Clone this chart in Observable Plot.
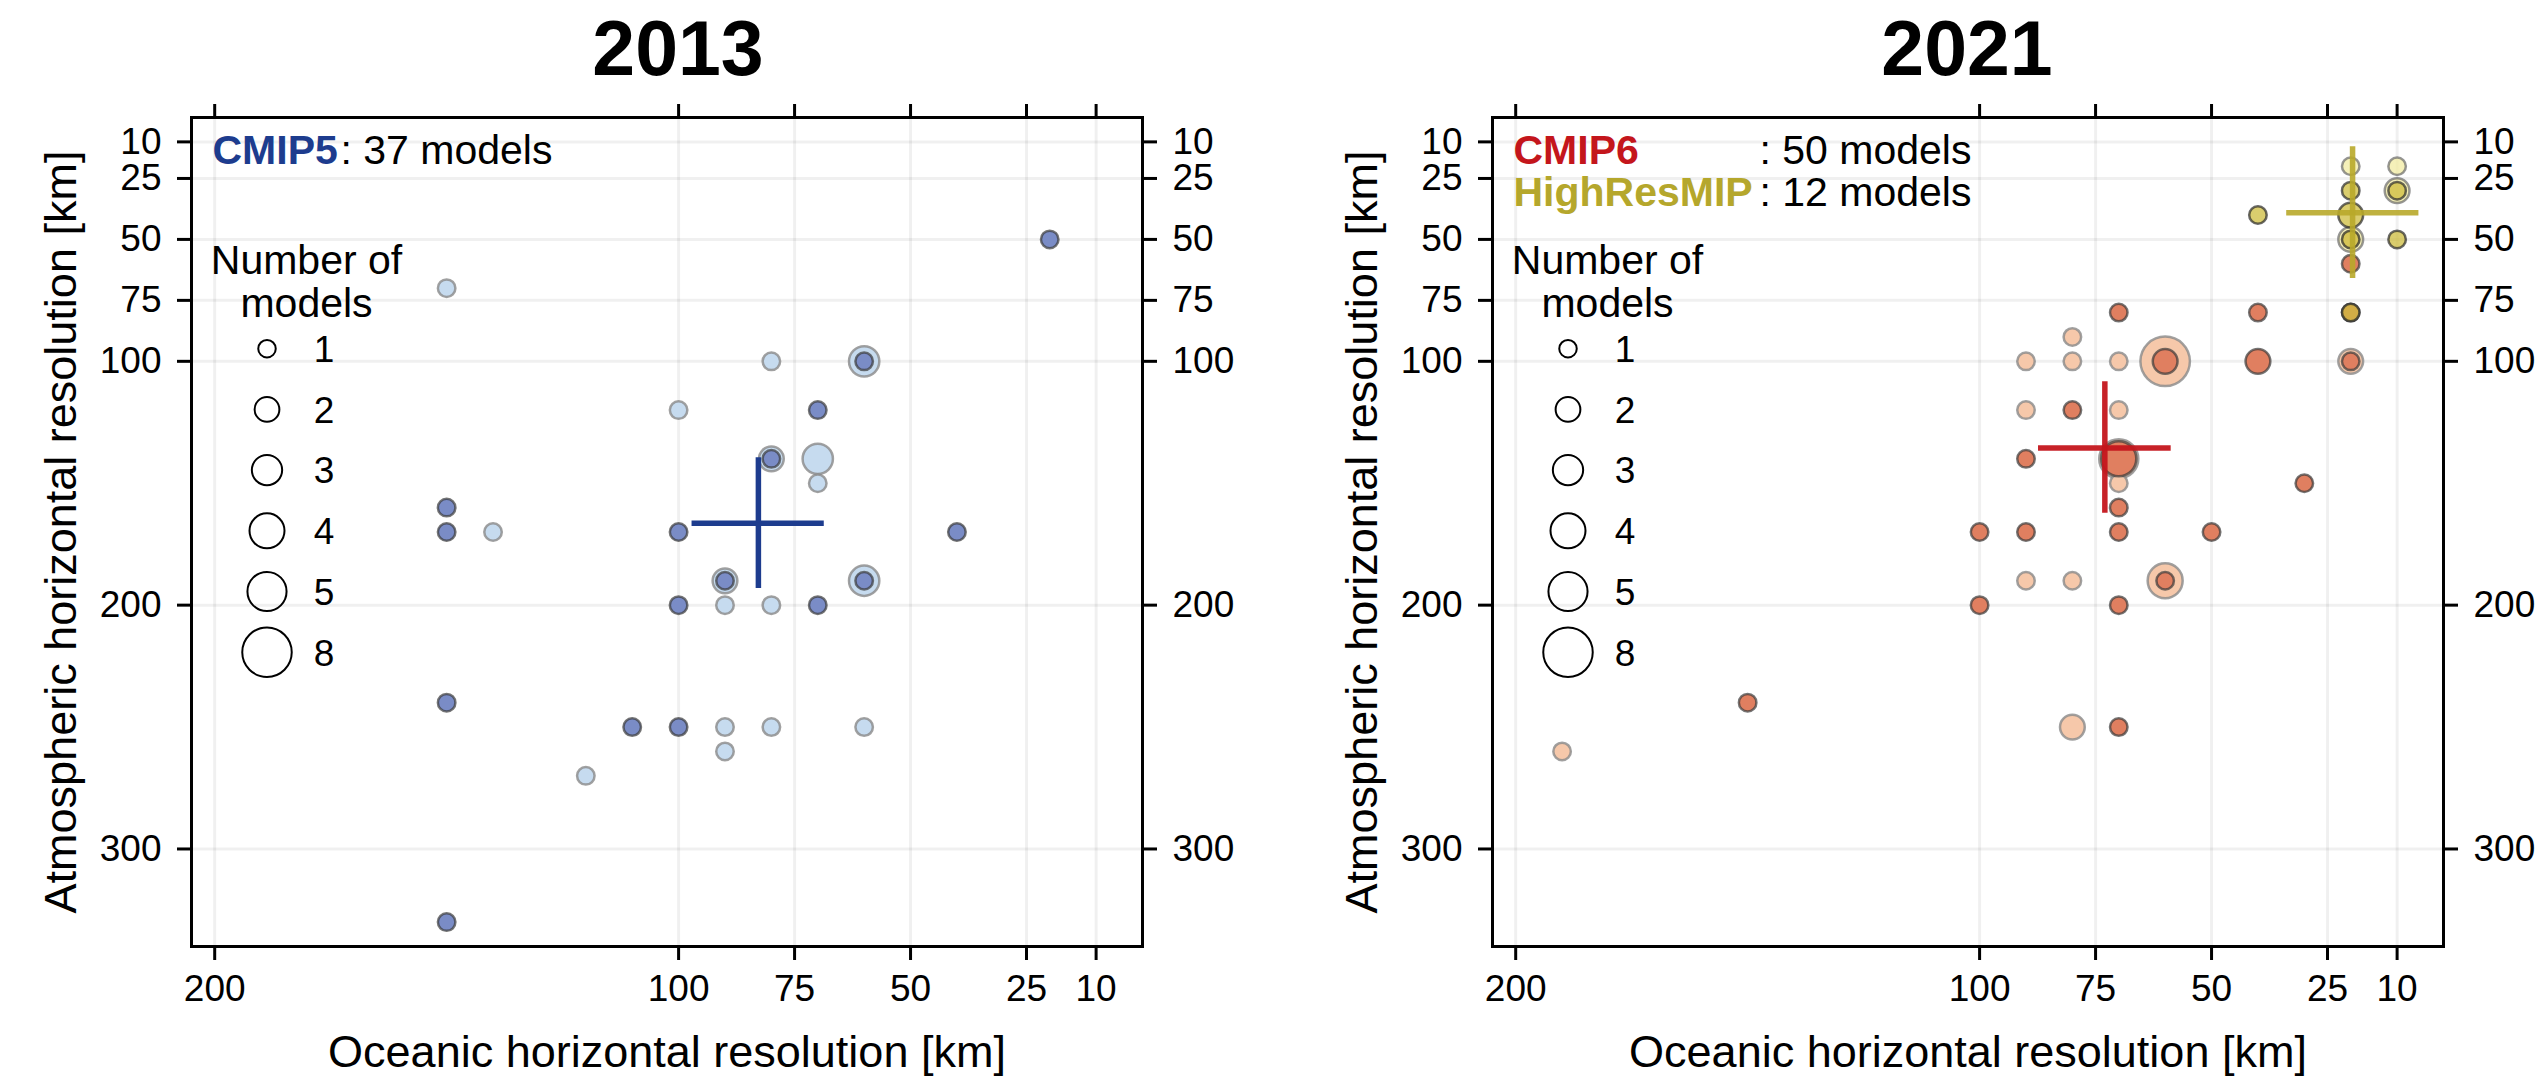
<!DOCTYPE html>
<html><head><meta charset="utf-8">
<script src="https://cdn.jsdelivr.net/npm/d3@7"></script>
<script src="https://cdn.jsdelivr.net/npm/@observablehq/plot@0.6"></script>
<style>
html,body{margin:0;padding:0;background:#fff;}
body{width:2541px;height:1077px;position:relative;overflow:hidden;font-family:"Liberation Sans",Arial,Helvetica,sans-serif;}
.title{position:absolute;top:10px;width:400px;text-align:center;font-weight:bold;font-size:77px;line-height:77px;color:#000;}
.panel{position:absolute;top:90px;}
</style></head><body>
<div class="title" style="left:478px">2013</div>
<div class="title" style="left:1767px">2021</div>
<div id="left" class="panel" style="left:0px"></div>
<div id="right" class="panel" style="left:1270px"></div>
<script>
// ---------- axes / legend values ----------
const xTicks = [200, 100, 75, 50, 25, 10];
const yTicks = [10, 25, 50, 75, 100, 200, 300];
const legendSizes = [1, 2, 3, 4, 5, 8];

// ---------- 2013 : CMIP5 ----------  [ocean km, atmosphere km, number of models]
const cmip5Count = 37;
const cmip5All = [
  [150, 70, 1], [80, 100, 1], [60, 100, 3], [100, 120, 1], [80, 140, 2], [70, 140, 3],
  [70, 150, 1], [140, 170, 1], [90, 190, 2], [60, 190, 3], [90, 200, 1], [80, 200, 1],
  [90, 250, 1], [80, 250, 1], [60, 250, 1], [90, 260, 1], [120, 270, 1]
];
const cmip5Subset = [
  [20, 50, 1], [60, 100, 1], [70, 120, 1], [80, 140, 1], [150, 160, 1], [150, 170, 1],
  [100, 170, 1], [40, 170, 1], [90, 190, 1], [60, 190, 1], [100, 200, 1], [70, 200, 1],
  [150, 240, 1], [110, 250, 1], [100, 250, 1], [150, 330, 1]
];
const cmip5Mean = [82.8, 166.4];
const cmip5OceanRange = [97.1, 68.6];
const cmip5AtmosRange = [139.5, 193.2];

// ---------- 2021 : CMIP6 ----------
const cmip6Count = 50;
const cmip6All = [
  [80, 90, 1], [90, 100, 1], [80, 100, 1], [70, 100, 1], [60, 100, 8], [20, 100, 2],
  [90, 120, 1], [70, 120, 1], [70, 140, 5], [70, 150, 1], [90, 190, 1], [80, 190, 1],
  [60, 190, 4], [80, 250, 2], [190, 260, 1], [20, 50, 1]
];
const cmip6Subset = [
  [70, 80, 1], [40, 80, 1], [20, 80, 1], [60, 100, 2], [40, 100, 2], [20, 100, 1],
  [80, 120, 1], [90, 140, 1], [70, 140, 4], [30, 150, 1], [70, 160, 1], [100, 170, 1],
  [90, 170, 1], [70, 170, 1], [50, 170, 1], [60, 190, 1], [100, 200, 1], [70, 200, 1],
  [150, 240, 1], [70, 250, 1], [20, 60, 1]
];
const cmip6Mean = [73.0, 135.5];
const cmip6OceanRange = [87.3, 58.7];
const cmip6AtmosRange = [108.4, 162.3];

// ---------- 2021 : HighResMIP ----------
const hrCount = 12;
const hrAll = [[20, 20, 1], [10, 20, 1], [10, 30, 2], [20, 50, 2]];
const hrSubset = [[20, 30, 1], [10, 30, 1], [40, 40, 1], [20, 40, 2], [20, 50, 1], [10, 50, 1], [20, 80, 1]];
const hrMean = [19.6, 39.1];
const hrOceanRange = [33.8, 5.3];
const hrAtmosRange = [12, 66];

// ---------- styling ----------
const FONT = '"Liberation Sans", Arial, Helvetica, sans-serif';
const R1 = 8.75;
const SW = 2.5;
const W_LEFT = 1270, W_RIGHT = 1271, H = 987;
const M_TOP = 27, M_BOTTOM = 131;

const X = d => d[0], Y = d => d[1], N = d => d[2];

function commonMarks() {
  return [
    Plot.gridX(xTicks, {stroke: "#000", strokeOpacity: 0.06, strokeWidth: 3}),
    Plot.gridY(yTicks, {stroke: "#000", strokeOpacity: 0.06, strokeWidth: 3}),
    Plot.axisX(xTicks, {anchor: "bottom", tickSize: 14, tickPadding: 14, strokeWidth: 3, fontSize: 37, label: null}),
    Plot.axisX(xTicks, {anchor: "top", tickSize: 14, strokeWidth: 3, tickFormat: () => "", label: null}),
    Plot.axisY(yTicks, {anchor: "left", tickSize: 14, tickPadding: 16, strokeWidth: 3, fontSize: 37, label: null}),
    Plot.axisY(yTicks, {anchor: "right", tickSize: 14, tickPadding: 16, strokeWidth: 3, fontSize: 37, label: null}),
    Plot.text(["Oceanic horizontal resolution [km]"], {frameAnchor: "bottom", dy: 120, lineAnchor: "bottom", textAnchor: "middle", fontSize: 45, fill: "#000"}),
    Plot.text(["Atmospheric horizontal resolution [km]"], {frameAnchor: "left", dx: -116, rotate: -90, lineAnchor: "bottom", textAnchor: "middle", fontSize: 45, fill: "#000"}),
    Plot.text(["Number of"], {frameAnchor: "top-left", dx: 115, dy: 156, lineAnchor: "bottom", textAnchor: "middle", fontSize: 41, fill: "#000"}),
    Plot.text(["models"], {frameAnchor: "top-left", dx: 115, dy: 199, lineAnchor: "bottom", textAnchor: "middle", fontSize: 41, fill: "#000"})
  ];
}

function cross(mean, oRange, aRange, color, opacity) {
  return [
    Plot.ruleY([mean[1]], {y: d => d, x1: oRange[0], x2: oRange[1], stroke: color, strokeWidth: 5.5, strokeOpacity: opacity}),
    Plot.ruleX([mean[0]], {x: d => d, y1: aRange[0], y2: aRange[1], stroke: color, strokeWidth: 5.5, strokeOpacity: opacity})
  ];
}

function makePlot(width, marginLeft, marginRight, marks) {
  return Plot.plot({
    width, height: H, marginLeft, marginRight, marginTop: M_TOP, marginBottom: M_BOTTOM,
    style: {fontFamily: FONT, fontSize: "37px", color: "#000", background: "transparent", overflow: "visible"},
    x: {domain: [205, 0]},
    y: {domain: [340, 0]},
    r: {type: "sqrt", domain: [0, 8], range: [0, R1 * Math.sqrt(8)]},
    marks: [...commonMarks(), ...marks, Plot.frame({stroke: "#000", strokeWidth: 3})]
  });
}

function addSizeLegend(svg, marginLeft) {
  const r = svg.scale("r");
  const g = d3.select(svg).append("g").attr("font-family", FONT);
  legendSizes.forEach((n, i) => {
    const cy = M_TOP + 231.7 + i * 60.7;
    g.append("circle").attr("cx", marginLeft + 76).attr("cy", cy).attr("r", r.apply(n))
      .attr("fill", "none").attr("stroke", "#000").attr("stroke-width", 2);
    g.append("text").attr("x", marginLeft + 133).attr("y", cy).attr("dy", "0.36em")
      .attr("font-size", 37).attr("fill", "#000").text(n);
  });
}

// ---------- left panel ----------
const leftML = 191, leftMR = 128;
const left = makePlot(W_LEFT, leftML, leftMR, [
  Plot.dot(cmip5All, {x: X, y: Y, r: N, fill: "#c6dbef", stroke: "#8a8a8a", strokeOpacity: 0.8, strokeWidth: SW}),
  Plot.dot(cmip5Subset, {x: X, y: Y, r: N, fill: "#7a8cc6", stroke: "#3a3a3a", strokeOpacity: 0.7, strokeWidth: SW}),
  ...cross(cmip5Mean, cmip5OceanRange, cmip5AtmosRange, "#1d3c8e", 1),
  Plot.text(["CMIP5"], {frameAnchor: "top-left", dx: 21, dy: 46, lineAnchor: "bottom", textAnchor: "start", fontWeight: "bold", fontSize: 41, fill: "#1d3c8e"}),
  Plot.text([`: ${cmip5Count} models`], {frameAnchor: "top-left", dx: 149, dy: 46, lineAnchor: "bottom", textAnchor: "start", fontSize: 41, fill: "#000"})
]);
addSizeLegend(left, leftML);
document.getElementById("left").appendChild(left);

// ---------- right panel ----------
const rightML = 222, rightMR = 98;
const right = makePlot(W_RIGHT, rightML, rightMR, [
  Plot.dot(cmip6All, {x: X, y: Y, r: N, fill: "#f6c8aa", stroke: "#8a8a8a", strokeOpacity: 0.8, strokeWidth: SW}),
  Plot.dot(cmip6Subset, {x: X, y: Y, r: N, fill: "#e07f60", stroke: "#3a3a3a", strokeOpacity: 0.7, strokeWidth: SW}),
  Plot.dot(hrAll, {x: X, y: Y, r: N, fill: "#f2eba2", fillOpacity: 0.75, stroke: "#6a6a6a", strokeOpacity: 0.7, strokeWidth: SW}),
  Plot.dot(hrSubset, {x: X, y: Y, r: N, fill: "#cebc3e", fillOpacity: 0.75, stroke: "#2a2a2a", strokeOpacity: 0.7, strokeWidth: SW}),
  ...cross(cmip6Mean, cmip6OceanRange, cmip6AtmosRange, "#c4161c", 0.95),
  ...cross(hrMean, hrOceanRange, hrAtmosRange, "#b8a92a", 0.9),
  Plot.text(["CMIP6"], {frameAnchor: "top-left", dx: 21, dy: 46, lineAnchor: "bottom", textAnchor: "start", fontWeight: "bold", fontSize: 41, fill: "#c4161c"}),
  Plot.text(["HighResMIP"], {frameAnchor: "top-left", dx: 21, dy: 88, lineAnchor: "bottom", textAnchor: "start", fontWeight: "bold", fontSize: 41, fill: "#b5a72c"}),
  Plot.text([`: ${cmip6Count} models`], {frameAnchor: "top-left", dx: 267, dy: 46, lineAnchor: "bottom", textAnchor: "start", fontSize: 41, fill: "#000"}),
  Plot.text([`: ${hrCount} models`], {frameAnchor: "top-left", dx: 267, dy: 88, lineAnchor: "bottom", textAnchor: "start", fontSize: 41, fill: "#000"})
]);
addSizeLegend(right, rightML);
document.getElementById("right").appendChild(right);
</script></body></html>
